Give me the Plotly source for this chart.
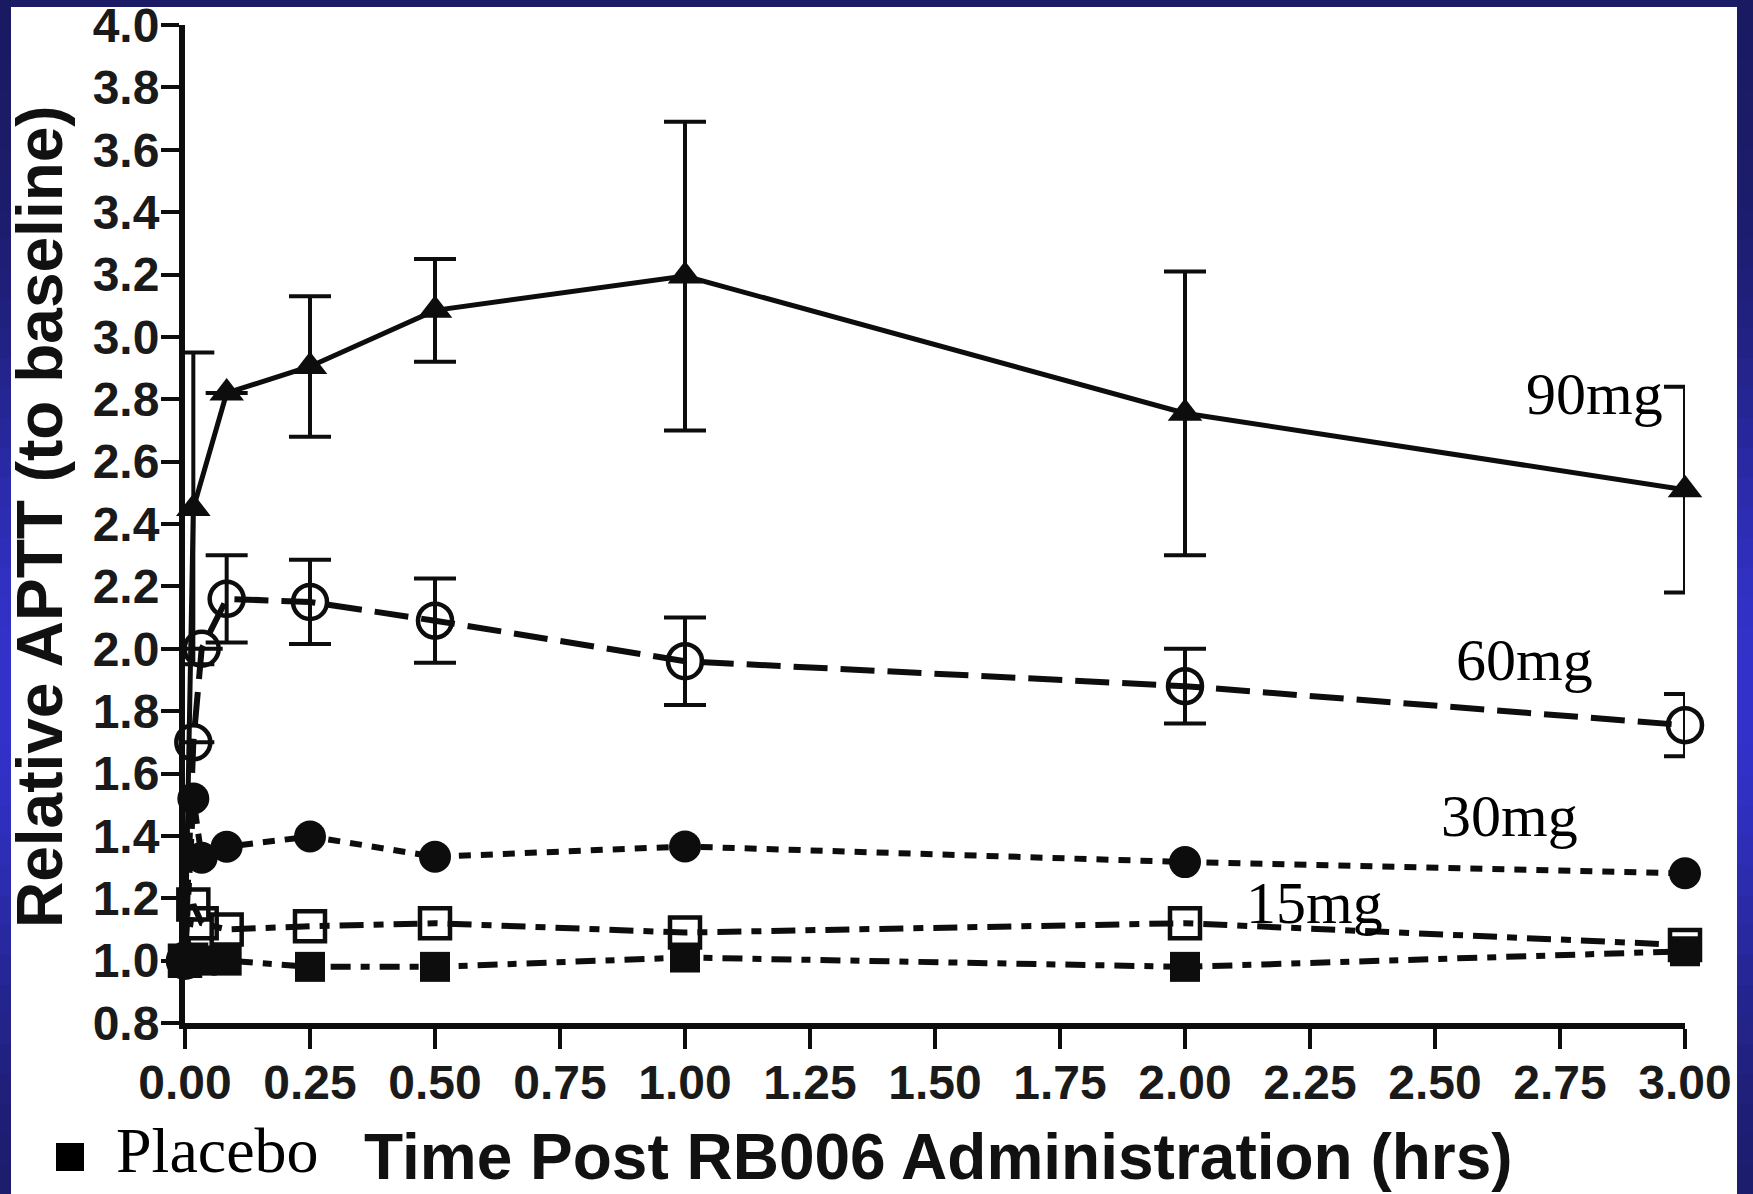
import numpy as np
import plotly.graph_objects as go

# ---------------- data ----------------
time_hrs = [0.0, 1/60, 2/60, 5/60, 0.25, 0.5, 1.0, 2.0, 3.0]
x_ticks = [0.00, 0.25, 0.50, 0.75, 1.00, 1.25, 1.50, 1.75, 2.00, 2.25, 2.50, 2.75, 3.00]
y_ticks = [0.8, 1.0, 1.2, 1.4, 1.6, 1.8, 2.0, 2.2, 2.4, 2.6, 2.8, 3.0, 3.2, 3.4, 3.6, 3.8, 4.0]

mg90 = [1.00, 2.45, None, 2.82, 2.905, 3.085, 3.195, 2.755, 2.51]
mg90_err = [0.0, 0.50, 0.0, 0.0, 0.225, 0.165, 0.495, 0.455, 0.33]

mg60 = [1.00, 1.70, 2.00, 2.16, 2.15, 2.09, 1.96, 1.88, 1.755]
mg60_err = [0.0, 0.0, 0.0, 0.14, 0.135, 0.135, 0.14, 0.12, 0.10]

mg30 = [1.00, 1.52, 1.33, 1.365, 1.398, 1.333, 1.366, 1.316, 1.28]
mg15 = [1.00, 1.18, 1.12, 1.10, 1.11, 1.12, 1.09, 1.12, 1.05]
placebo = [1.00, 1.01, 1.00, 1.00, 0.98, 0.98, 1.01, 0.98, 1.03]

series_labels = ["90mg", "60mg", "30mg", "15mg"]
label_pos_x = [2.818, 2.678, 2.648, 2.258]
label_pos_y = [2.817, 1.965, 1.465, 1.186]

x_title = "Time Post RB006 Administration (hrs)"
y_title = "Relative APTT (to baseline)"
legend_text = "Placebo"

# ---------------- figure ----------------
W, H = 1753, 1194
L, R, T, B = 185, 68, 25, 171
pw, ph = W - L - R, H - T - B

def px_to_paper_x(px):
    return (px - L) / pw

def px_to_paper_y(py):
    return (H - B - py) / ph

fig = go.Figure()
INK = "#0d0d0d"

def add_series(y, symbol, size, dash, width, err=None, mline=0):
    kw = {}
    if err is not None:
        kw["error_y"] = dict(type="data", array=err, visible=True,
                             color=INK, thickness=4, width=21)
    fig.add_trace(go.Scatter(
        x=time_hrs, y=y, mode="lines+markers", connectgaps=True,
        line=dict(color=INK, width=width, dash=dash),
        marker=dict(symbol=symbol, size=size, color=INK,
                    line=dict(color=INK, width=mline)),
        cliponaxis=False, showlegend=False, **kw))

add_series(placebo, "square", 30, "20px,10px,9px,10px", 6)
add_series(mg15, "square-open", 30, "24px,10px,10px,10px", 6, mline=4.5)
add_series(mg30, "circle", 32, "12px,10px", 6)
add_series(mg60, "circle-open", 34, "34px,13px", 6, err=mg60_err, mline=4.5)
add_series(mg90, "triangle-up", 30, "solid", 5, err=mg90_err)

# series labels
for txt, lx, ly in zip(series_labels, label_pos_x, label_pos_y):
    fig.add_annotation(x=lx, y=ly, xref="x", yref="y", text=txt, showarrow=False,
                       font=dict(family="Liberation Serif", size=60, color="#000"),
                       xanchor="center", yanchor="middle")

# axis titles
fig.add_annotation(x=px_to_paper_x(938), y=px_to_paper_y(1157), xref="paper", yref="paper",
                   text=x_title, showarrow=False, xanchor="center", yanchor="middle",
                   font=dict(family="Liberation Sans", size=64, color="#111", weight="bold"))
fig.add_annotation(x=px_to_paper_x(40), y=px_to_paper_y(517), xref="paper", yref="paper",
                   text=y_title, showarrow=False, textangle=-90, xanchor="center", yanchor="middle",
                   font=dict(family="Liberation Sans", size=64, color="#111", weight="bold"))

# placebo key
fig.add_annotation(x=px_to_paper_x(114), y=px_to_paper_y(1150), xref="paper", yref="paper",
                   text=legend_text, showarrow=False, xanchor="left", yanchor="middle",
                   font=dict(family="Liberation Serif", size=64, color="#000"))
fig.add_shape(type="rect", xref="paper", yref="paper",
              x0=px_to_paper_x(56), x1=px_to_paper_x(84),
              y0=px_to_paper_y(1171), y1=px_to_paper_y(1143),
              fillcolor="#000", line=dict(width=0))

# background: blue frame with vertical gradient on the side strips, white sheet
shapes = []
n_bands = 40
dark = np.array([0x1a, 0x1a, 0x62])
bright = np.array([0x33, 0x33, 0xcc])
for i in range(n_bands):
    y0p, y1p = i * H / n_bands, (i + 1) * H / n_bands
    f = (y0p + y1p) / 2 / H
    k = np.exp(-((f - 0.58) / 0.28) ** 2)
    c = dark + (bright - dark) * k
    col = "rgb(%d,%d,%d)" % tuple(c.astype(int))
    for xa, xb in [(-5, 11), (1737, W + 5)]:
        shapes.append(dict(type="rect", xref="paper", yref="paper", layer="below",
                           x0=px_to_paper_x(xa), x1=px_to_paper_x(xb),
                           y0=px_to_paper_y(y1p + 1), y1=px_to_paper_y(y0p),
                           fillcolor=col, line=dict(width=0)))
shapes.append(dict(type="rect", xref="paper", yref="paper", layer="below",
                   x0=px_to_paper_x(11), x1=px_to_paper_x(1737),
                   y0=px_to_paper_y(H + 5), y1=px_to_paper_y(7),
                   fillcolor="#ffffff", line=dict(width=0)))
for s in shapes:
    fig.add_shape(**s)

tick_font = dict(family="Liberation Sans", size=48, color="#1a1a1a", weight="bold")
fig.update_layout(
    width=W, height=H,
    margin=dict(l=L, r=R, t=T, b=B, pad=0, autoexpand=False),
    paper_bgcolor="#1b1b66",
    plot_bgcolor="rgba(0,0,0,0)",
    xaxis=dict(range=[0, 3], tickvals=x_ticks, tickformat=".2f", automargin=False,
               showgrid=False, zeroline=False, showline=True, linecolor=INK, linewidth=6,
               ticks="outside", ticklen=20, tickwidth=4, tickcolor=INK,
               tickfont=tick_font, ticklabelstandoff=-8, ticklabeloverflow="allow"),
    yaxis=dict(range=[0.8, 4.0], tickvals=y_ticks, tickformat=".1f", automargin=False,
               showgrid=False, zeroline=False, showline=True, linecolor=INK, linewidth=6,
               ticks="outside", ticklen=18, tickwidth=4, tickcolor=INK,
               tickfont=tick_font, ticklabelstandoff=-8, ticklabeloverflow="allow"),
)

fig.write_html("out.html", config={"displayModeBar": False},
               post_script="document.body.style.margin='0px';")
